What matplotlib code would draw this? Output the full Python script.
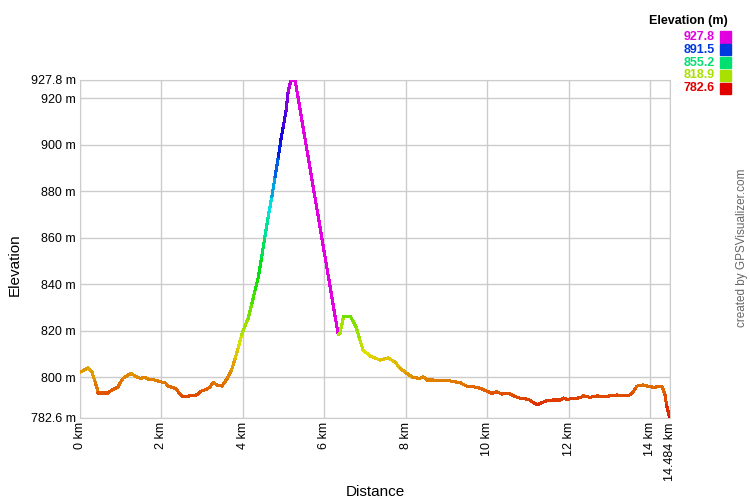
"""
elevation profile, line coloured by height
"""

import colorsys

import matplotlib

matplotlib.use("Agg")
import matplotlib.pyplot as plt
import numpy as np
from matplotlib.collections import LineCollection

plt.rcParams["font.family"] = ["Liberation Sans", "DejaVu Sans"]

# profile: distance (km), elevation (m)
dist_km = [
    0.0, 0.2, 0.29, 0.37, 0.45, 0.69, 0.78, 0.94, 0.98, 1.06, 1.25, 1.35,
    1.47, 1.6, 1.68, 1.84, 1.96, 2.09, 2.17, 2.33, 2.41, 2.52, 2.7, 2.86,
    2.99, 3.11, 3.19, 3.27, 3.36, 3.48, 3.56, 3.64, 3.72, 3.81, 3.89, 3.97,
    4.01, 4.13, 4.22, 4.3, 4.38, 4.46, 4.54, 4.62, 4.71, 4.79, 4.87, 4.93,
    4.99, 5.06, 5.11, 5.18, 5.28,
    6.34, 6.38, 6.47, 6.63, 6.71, 6.79, 6.87, 6.95, 7.12, 7.37,
    7.56, 7.73, 7.86, 8.02, 8.18, 8.35, 8.43, 8.51, 8.67, 8.84, 9.0, 9.17,
    9.33, 9.49, 9.66, 9.82, 9.98, 10.11, 10.23, 10.35, 10.52, 10.64, 10.8,
    11.01, 11.13, 11.23, 11.34, 11.46, 11.62, 11.79, 11.87, 11.95, 12.11,
    12.28, 12.36, 12.52, 12.69, 12.85, 13.01, 13.18, 13.34, 13.5, 13.58,
    13.67, 13.83, 13.99, 14.12, 14.22, 14.3, 14.36, 14.4, 14.47, 14.484,
]
elev_m = [
    802.2, 804.2, 802.5, 798.2, 793.5, 793.5, 794.6, 796.0, 797.5, 799.7,
    801.8, 800.6, 799.7, 799.9, 799.2, 798.9, 798.2, 797.8, 796.3, 795.4,
    793.9, 791.8, 792.1, 792.5, 794.3, 794.9, 796.0, 797.8, 796.8, 796.3,
    798.2, 800.3, 803.2, 808.2, 813.2, 818.3, 820.4, 825.4, 831.9, 837.6,
    843.3, 851.9, 860.5, 869.1, 877.7, 886.3, 894.8, 902.0, 907.7, 914.9,
    922.8, 927.8, 927.8,
    818.3, 819.0, 826.1, 826.4, 824.0, 821.1, 816.1, 811.8,
    809.2, 807.5, 808.4, 806.7, 803.9, 801.8, 799.9, 799.7, 800.3, 798.9,
    798.9, 798.6, 798.9, 798.2, 797.8, 796.3, 796.0, 795.4, 794.2, 793.2,
    793.9, 792.9, 793.2, 792.1, 791.1, 790.6, 789.2, 788.2, 789.2, 790.1,
    790.3, 790.3, 791.2, 790.6, 791.0, 791.3, 792.1, 791.5, 792.1, 791.8,
    792.1, 792.5, 792.1, 792.5, 793.9, 796.3, 796.8, 796.0, 795.8, 796.3,
    795.8, 792.5, 788.2, 782.9, 782.6,
]

elev_min, elev_max = 782.6, 927.8
total_km = 14.484
y_ticks = [782.6, 800, 820, 840, 860, 880, 900, 920, 927.8]
x_ticks = [0, 2, 4, 6, 8, 10, 12, 14, 14.484]
legend_values = [927.8, 891.5, 855.2, 818.9, 782.6]


def elev_color(e):
    # hue runs red -> magenta over the elevation range
    frac = (e - elev_min) / (elev_max - elev_min)
    return colorsys.hsv_to_rgb(frac * 300 / 360, 1.0, 0.88)


fig = plt.figure(figsize=(7.5, 5), dpi=100)
ax = fig.add_axes([80 / 750, 82 / 500, 590 / 750, 338 / 500])

x = np.array(dist_km)
y = np.array(elev_m)
segs = np.stack([np.column_stack([x[:-1], y[:-1]]), np.column_stack([x[1:], y[1:]])], axis=1)
# each segment takes the colour of its starting point
cols = [elev_color(e) for e in y[:-1]]
ax.add_collection(LineCollection(segs, colors=cols, linewidths=1.5, capstyle="round",
                                 antialiased=False, zorder=3))

ax.set_xlim(0, total_km)
ax.set_ylim(elev_min, elev_max)
ax.set_yticks(y_ticks)
ax.set_yticklabels([f"{v:g} m" for v in y_ticks], fontsize=9)
ax.set_xticks(x_ticks)
ax.set_xticklabels([f"{v:g} km" for v in x_ticks], fontsize=9, rotation=90)
ax.tick_params(length=0, pad=3, colors="black")
ax.grid(True, color="#cccccc", linewidth=1)
for sp in ax.spines.values():
    sp.set_color("#cccccc")

fig.text(15 / 750, 1 - 265 / 500, "Elevation", rotation=90, fontsize=11, ha="center", va="center")
fig.text(375 / 750, 1 - 492 / 500, "Distance", fontsize=11, ha="center", va="center")

# legend
fig.text(728 / 750, 1 - 21 / 500, "Elevation (m)", fontsize=9, fontweight="bold", ha="right", va="center")
for i, v in enumerate(legend_values):
    yc = 1 - (37 + i * 12.8) / 500
    c = elev_color(v)
    fig.text(715 / 750, yc, f"{v:.1f}", color=c, fontsize=9, fontweight="bold", ha="right", va="center")
    fig.patches.append(plt.Rectangle((720 / 750, yc - 5.5 / 500), 11 / 750, 11 / 500,
                                     transform=fig.transFigure, color=c, figure=fig))

fig.text(742 / 750, 1 - 248 / 500, "created by GPSVisualizer.com", rotation=90, fontsize=8.5,
         color="#666666", ha="center", va="center")

fig.savefig("out.png", dpi=100)
